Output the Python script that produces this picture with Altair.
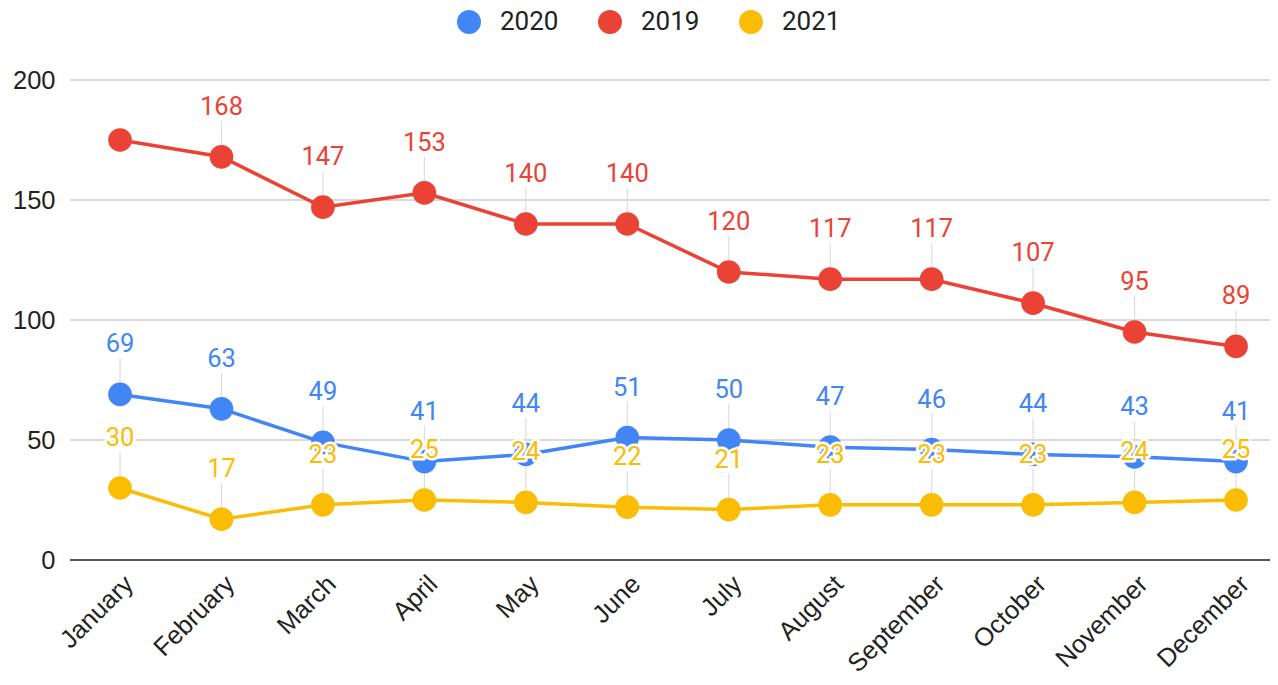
import altair as alt
import pandas as pd

months = ["January", "February", "March", "April", "May", "June", "July",
          "August", "September", "October", "November", "December"]
series_order = ["2020", "2019", "2021"]
colors = ["#4285F4", "#EA4335", "#FBBC04"]
v2019 = [175, 168, 147, 153, 140, 140, 120, 117, 117, 107, 95, 89]
v2020 = [69, 63, 49, 41, 44, 51, 50, 47, 46, 44, 43, 41]
v2021 = [30, 17, 23, 25, 24, 22, 21, 23, 23, 23, 24, 25]
# 2019 January has no data label in the reference
hidden = [("2019", "January")]
y_ticks = [0, 50, 100, 150, 200]

rows = []
for name, vals in [("2019", v2019), ("2020", v2020), ("2021", v2021)]:
    for i, (m, v) in enumerate(zip(months, vals)):
        rows.append({"series": name, "month": m, "idx": i, "value": v,
                     "show": (name, m) not in hidden})
df = pd.DataFrame(rows)
grid_df = pd.DataFrame({"tick": y_ticks, "zero": [t == 0 for t in y_ticks]})

month_js = "[" + ",".join("'%s'" % m for m in months) + "]"
x_enc = alt.X("idx:Q",
              scale=alt.Scale(domain=[-0.493, 11.335], nice=False, zero=False),
              axis=alt.Axis(title=None, values=list(range(len(months))),
                            labelExpr=month_js + "[datum.value]",
                            labelAngle=-45, labelAlign="right",
                            labelBaseline="top", labelFont="Liberation Sans",
                            labelFontSize=25.5, labelColor="#222", labelPadding=11,
                            labelOverlap=False, labelFlush=False, labelBound=False,
                            ticks=False, domain=False, grid=False))
y_scale = alt.Scale(domain=[0, 200], nice=False)
y_enc = alt.Y("value:Q", scale=y_scale,
              axis=alt.Axis(title=None, values=y_ticks, labelFont="Liberation Sans",
                            labelFontSize=25.5, labelColor="#222", labelPadding=15,
                            ticks=False, domain=False, grid=False))

legend = alt.Legend(title=None, orient="none", direction="horizontal",
                    legendX=386, legendY=-71, padding=0,
                    symbolType="circle", symbolSize=573,
                    symbolStrokeWidth=0, symbolOpacity=1,
                    labelFont="Roboto", labelFontSize=26,
                    labelColor="#222", labelOffset=18,
                    columnPadding=38)
color_enc = alt.Color("series:N", scale=alt.Scale(domain=series_order, range=colors),
                      sort=series_order, legend=legend)

grid = alt.Chart(grid_df).mark_rule().encode(
    y=alt.Y("tick:Q", scale=y_scale),
    x=alt.value(0), x2=alt.value(1200),
    color=alt.condition("datum.zero", alt.value("#555555"), alt.value("#cccccc")),
    strokeWidth=alt.condition("datum.zero", alt.value(2), alt.value(1.5)))

base = alt.Chart(df)

leaders = base.transform_filter("datum.show").mark_rule(
    color="#dddddd", strokeWidth=1.2, y2Offset=-36
).encode(x=x_enc, y=y_enc, y2="value:Q")

lines = base.mark_line(strokeWidth=3.5).encode(
    x=x_enc, y=y_enc, color=color_enc, detail="series:N")

points = base.mark_circle(size=560, opacity=1).encode(
    x=x_enc, y=y_enc, color=color_enc)

halo = base.transform_filter("datum.show").mark_text(
    font="Roboto", fontSize=25.5, dy=-50, baseline="middle",
    stroke="white", strokeWidth=5, strokeJoin="round", fill="white"
).encode(x=x_enc, y=y_enc, text="value:Q")

labels = base.transform_filter("datum.show").mark_text(
    font="Roboto", fontSize=25.5, dy=-50, baseline="middle"
).encode(x=x_enc, y=y_enc, text="value:Q", color=color_enc)

chart = alt.layer(grid, leaders, lines, points, halo, labels).properties(
    width=1200, height=480,
    autosize=alt.AutoSizeParams(type="none"),
    padding={"left": 62, "top": 72, "right": 0, "bottom": 117},
).configure_view(stroke=None)

chart.save("out.html", embed_options={"renderer": "svg", "actions": False})
